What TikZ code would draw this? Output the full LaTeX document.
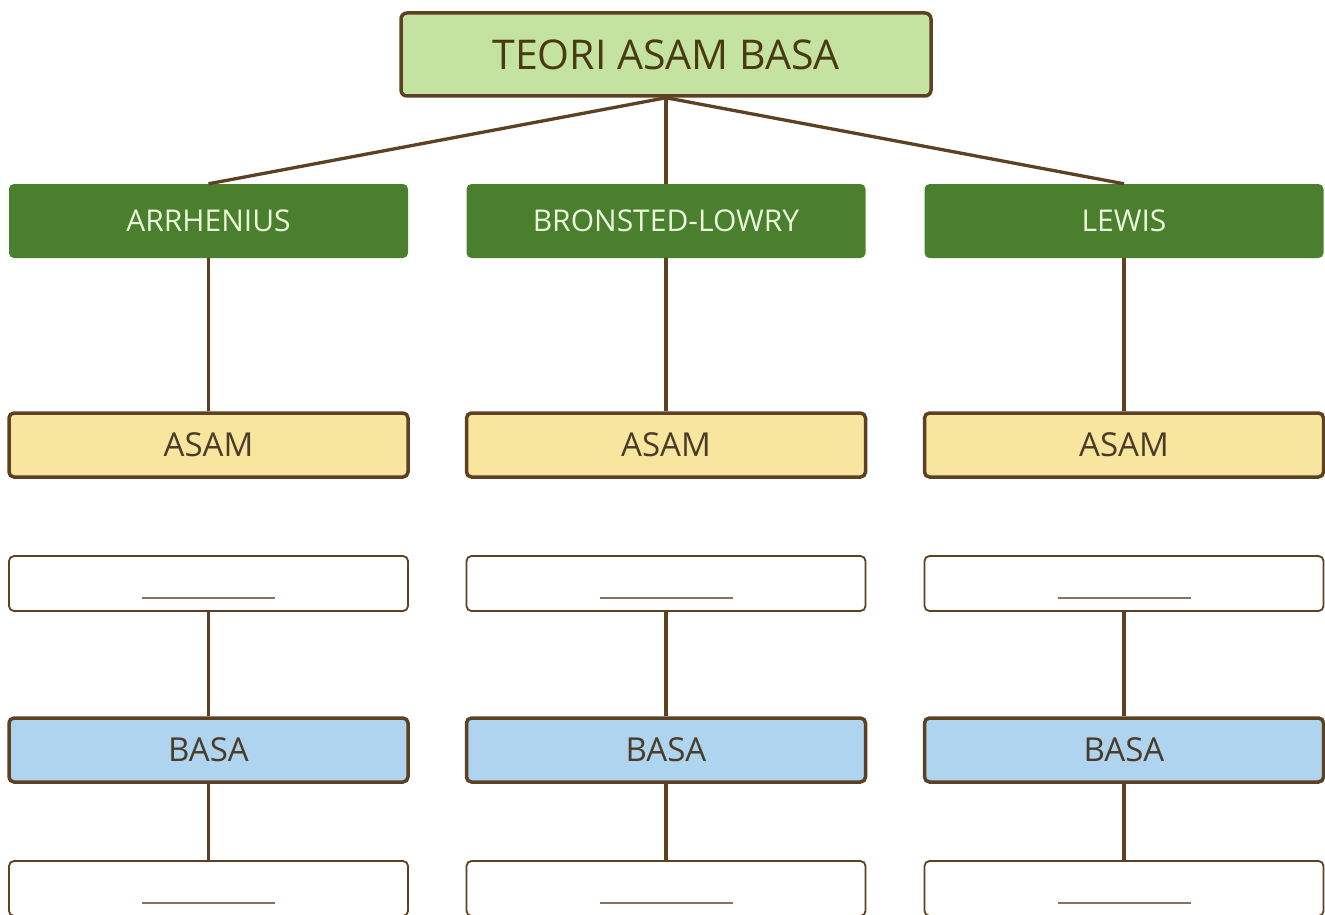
\documentclass[tikz,border=0pt]{standalone}
\usepackage{fontspec}
\setmainfont{Open Sans}
\definecolor{brn}{HTML}{5E4122}
\definecolor{topfill}{HTML}{C5E3A0}
\definecolor{toptext}{HTML}{4A3A12}
\definecolor{grn}{HTML}{4A7F2E}
\definecolor{grntext}{HTML}{EAF7DA}
\definecolor{yel}{HTML}{F8E59E}
\definecolor{blu}{HTML}{AED4EF}
\definecolor{boxtext}{HTML}{4A3C28}
\definecolor{blankline}{HTML}{8A7260}
\tikzset{
  topbox/.style={draw=brn, line width=3.5pt, fill=topfill, rounded corners=6pt, minimum width=530pt, minimum height=83pt, text=toptext, font=\fontsize{41}{48}\selectfont, inner sep=0pt},
  theorybox/.style={fill=grn, rounded corners=5pt, minimum width=399pt, minimum height=74pt, text=grntext, font=\fontsize{30}{36}\selectfont, inner sep=0pt},
  acidbox/.style={draw=brn, line width=3.5pt, fill=yel, rounded corners=5pt, minimum width=399pt, minimum height=64pt, text=boxtext, font=\fontsize{33}{38}\selectfont, inner sep=0pt},
  basebox/.style={draw=brn, line width=3.5pt, fill=blu, rounded corners=5pt, minimum width=399pt, minimum height=64pt, text=boxtext, font=\fontsize{33}{38}\selectfont, inner sep=0pt},
  blankbox/.style={draw=brn, line width=1.8pt, fill=white, rounded corners=5pt, minimum width=399pt, minimum height=55pt, inner sep=0pt},
  conn/.style={draw=brn, line width=3.3pt},
  blankrule/.style={draw=blankline, line width=2pt}
}
\begin{document}
\begin{tikzpicture}[x=1pt,y=-1pt]
\clip (0,0) rectangle (1325,915);
\fill[white] (0,0) rectangle (1325,915);
\node[topbox] (top) at (666,54.5) {TEORI ASAM BASA};
\foreach \n/\x/\t in {a/208.5/ARRHENIUS, b/666/BRONSTED-LOWRY, c/1124/LEWIS}{
  \node[theorybox] (th\n) at (\x,221) {\t};
  \node[acidbox] (ac\n) at (\x,445) {ASAM};
  \node[blankbox] (bl\n) at (\x,583.5) {};
  \node[basebox] (ba\n) at (\x,750) {BASA};
  \node[blankbox] (bb\n) at (\x,888.5) {};
  \draw[blankrule] ([xshift=-66.5pt,yshift=-14.5pt]bl\n.center) -- ([xshift=66.5pt,yshift=-14.5pt]bl\n.center);
  \draw[blankrule] ([xshift=-66.5pt,yshift=-14.5pt]bb\n.center) -- ([xshift=66.5pt,yshift=-14.5pt]bb\n.center);
  \draw[conn] (top.south) -- (th\n.north);
  \draw[conn] (th\n.south) -- (ac\n.north);
  \draw[conn] (bl\n.south) -- (ba\n.north);
  \draw[conn] (ba\n.south) -- (bb\n.north);
}
\end{tikzpicture}
\end{document}
